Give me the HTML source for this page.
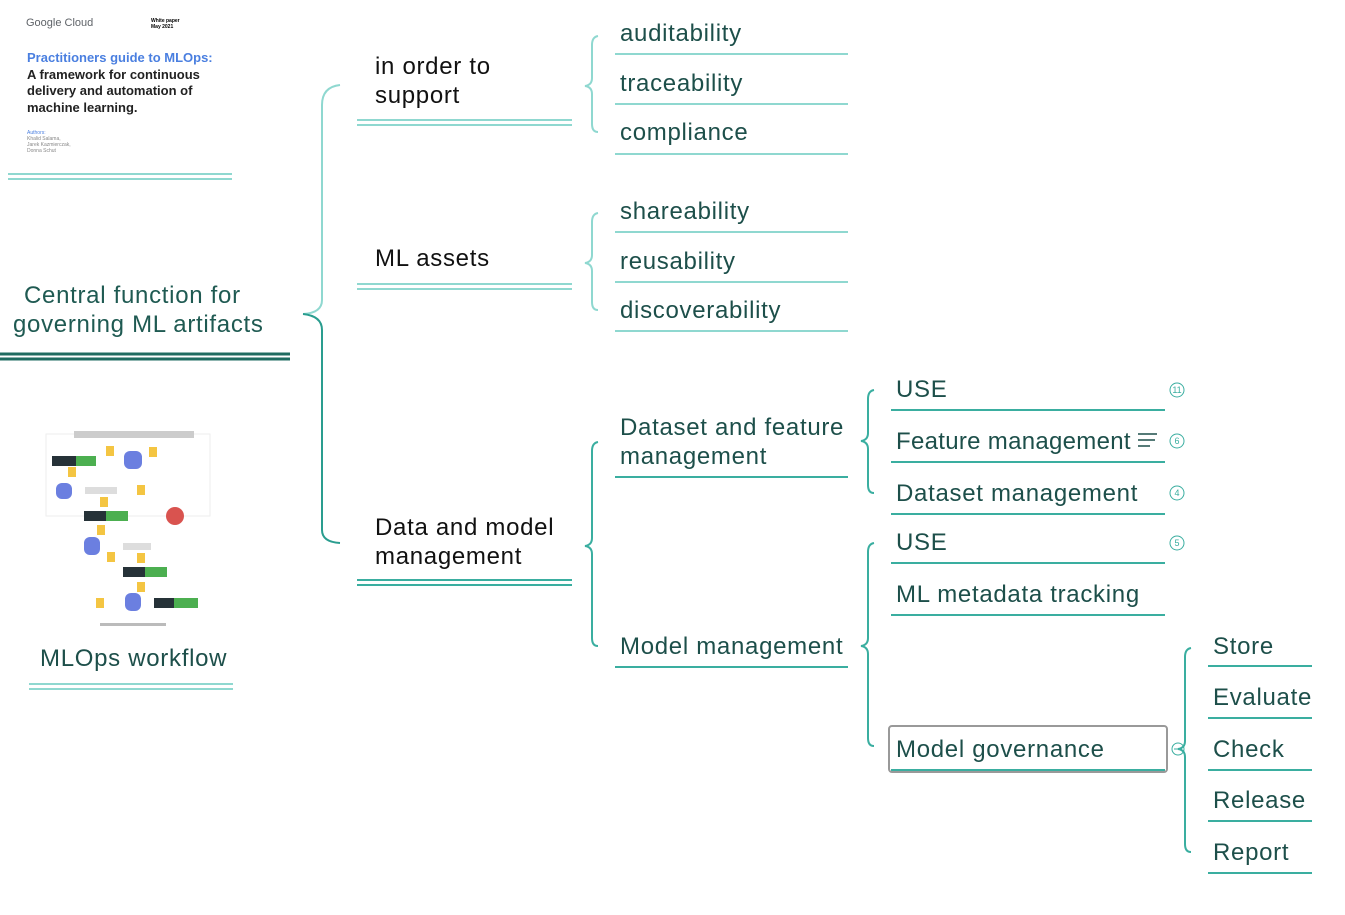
<!DOCTYPE html>
<html><head><meta charset="utf-8"><style>
body{margin:0;width:1345px;height:915px;background:#fff;position:relative;overflow:hidden;font-family:"Liberation Sans",sans-serif}
.t{position:absolute;font-size:24px;color:#1d4f4a;line-height:29px;white-space:nowrap;letter-spacing:0.7px;margin-top:1px}
.k{color:#111}
.s{position:absolute;font-size:11px;white-space:nowrap}
</style></head><body>
<svg width="1345" height="915" style="position:absolute;left:0;top:0">
<g fill="none" stroke-width="2">
<path d="M340 85 Q322 87 322 105 L322 300 Q322 313 303 314" stroke="#8fd8d0"/>
<path d="M303 314 Q322 316 322 330 L322 530 Q322 542 340 543" stroke="#2a9d8f"/>
<path d="M598 36 Q592 37 592 45 L592 78 Q592 85 585 86 Q592 87 592 94 L592 124 Q592 132 598 132" stroke="#8fd8d0"/>
<path d="M598 213 Q592 214 592 222 L592 255 Q592 262 585 263 Q592 264 592 271 L592 302 Q592 310 598 310" stroke="#8fd8d0"/>
<path d="M598 442 Q592 443 592 451 L592 538 Q592 545 585 546 Q592 547 592 554 L592 638 Q592 646 598 646" stroke="#3aaea0"/>
<path d="M874 390 Q868 391 868 399 L868 433 Q868 440 861 441 Q868 442 868 449 L868 485 Q868 493 874 493" stroke="#3aaea0"/>
<path d="M874 543 Q868 544 868 552 L868 638 Q868 645 861 646 Q868 647 868 654 L868 738 Q868 746 874 746" stroke="#3aaea0"/>
<path d="M1191 648 Q1185 649 1185 657 L1185 741 Q1185 748 1178 749 Q1185 750 1185 757 L1185 844 Q1185 852 1191 852" stroke="#3aaea0"/>
</g>
<g stroke-width="2">
<line x1="357" y1="120" x2="572" y2="120" stroke="#8fd8d0"/><line x1="357" y1="125" x2="572" y2="125" stroke="#8fd8d0"/>
<line x1="357" y1="284" x2="572" y2="284" stroke="#8fd8d0"/><line x1="357" y1="289" x2="572" y2="289" stroke="#8fd8d0"/>
<line x1="357" y1="580" x2="572" y2="580" stroke="#3aaea0"/><line x1="357" y1="585" x2="572" y2="585" stroke="#3aaea0"/>
<line x1="0" y1="354" x2="290" y2="354" stroke="#1f6b60" stroke-width="3"/><line x1="0" y1="359" x2="290" y2="359" stroke="#1f6b60" stroke-width="3"/>
<line x1="8" y1="174" x2="232" y2="174" stroke="#8fd8d0"/><line x1="8" y1="179" x2="232" y2="179" stroke="#8fd8d0"/>
<line x1="29" y1="684" x2="233" y2="684" stroke="#8fd8d0"/><line x1="29" y1="689" x2="233" y2="689" stroke="#8fd8d0"/>
<g stroke="#8fd8d0">
<line x1="615" y1="54" x2="848" y2="54"/><line x1="615" y1="104" x2="848" y2="104"/><line x1="615" y1="154" x2="848" y2="154"/>
<line x1="615" y1="232" x2="848" y2="232"/><line x1="615" y1="282" x2="848" y2="282"/><line x1="615" y1="331" x2="848" y2="331"/>
</g>
<g stroke="#3aaea0">
<line x1="615" y1="477" x2="848" y2="477"/><line x1="615" y1="667" x2="848" y2="667"/>
<line x1="891" y1="410" x2="1165" y2="410"/><line x1="891" y1="462" x2="1165" y2="462"/><line x1="891" y1="514" x2="1165" y2="514"/>
<line x1="891" y1="563" x2="1165" y2="563"/><line x1="891" y1="615" x2="1165" y2="615"/><line x1="891" y1="770" x2="1165" y2="770"/>
<line x1="1208" y1="666" x2="1312" y2="666"/><line x1="1208" y1="718" x2="1312" y2="718"/><line x1="1208" y1="770" x2="1312" y2="770"/>
<line x1="1208" y1="821" x2="1312" y2="821"/><line x1="1208" y1="873" x2="1312" y2="873"/>
</g>
</g>
<rect x="889" y="726" width="278" height="46" rx="3" fill="none" stroke="#999" stroke-width="2"/>
<g fill="none" stroke="#3aaea0" stroke-width="1">
<circle cx="1177" cy="390" r="7"/><circle cx="1177" cy="441" r="7"/><circle cx="1177" cy="493" r="7"/><circle cx="1177" cy="543" r="7"/><circle cx="1178" cy="749" r="6"/>
<line x1="1174" y1="749" x2="1182" y2="749"/>
</g>
<g stroke="#1d4f4a" stroke-width="1.5"><line x1="1138" y1="434" x2="1157" y2="434"/><line x1="1138" y1="440" x2="1155" y2="440"/><line x1="1138" y1="446" x2="1150" y2="446"/></g>
<g font-family="Liberation Sans" font-size="9" fill="#3aaea0" text-anchor="middle"><text x="1177" y="393">11</text><text x="1177" y="444">6</text><text x="1177" y="496">4</text><text x="1177" y="546">5</text></g>
<g>
<rect x="46" y="434" width="164" height="82" fill="none" stroke="#eee"/>
<rect x="74" y="431" width="120" height="7" fill="#ccc"/>
<rect x="52" y="456" width="44" height="10" fill="#4caf50"/><rect x="52" y="456" width="24" height="10" fill="#263238"/>
<rect x="84" y="511" width="44" height="10" fill="#4caf50"/><rect x="84" y="511" width="22" height="10" fill="#263238"/>
<rect x="123" y="567" width="44" height="10" fill="#4caf50"/><rect x="123" y="567" width="22" height="10" fill="#263238"/>
<rect x="154" y="598" width="44" height="10" fill="#4caf50"/><rect x="154" y="598" width="20" height="10" fill="#263238"/>
<rect x="85" y="487" width="32" height="7" fill="#ddd"/><rect x="123" y="543" width="28" height="7" fill="#ddd"/>
<g fill="#6b7fe0"><rect x="124" y="451" width="18" height="18" rx="6"/><rect x="56" y="483" width="16" height="16" rx="6"/><rect x="84" y="537" width="16" height="18" rx="6"/><rect x="125" y="593" width="16" height="18" rx="6"/></g>
<g fill="#f4c542"><rect x="106" y="446" width="8" height="10"/><rect x="149" y="447" width="8" height="10"/><rect x="68" y="467" width="8" height="10"/><rect x="137" y="485" width="8" height="10"/><rect x="100" y="497" width="8" height="10"/><rect x="97" y="525" width="8" height="10"/><rect x="107" y="552" width="8" height="10"/><rect x="137" y="553" width="8" height="10"/><rect x="137" y="582" width="8" height="10"/><rect x="96" y="598" width="8" height="10"/></g>
<circle cx="175" cy="516" r="9" fill="#d9534f"/>
<rect x="100" y="623" width="66" height="3" fill="#bbb"/>
</g>
</svg>
<div class="s" style="left:26px;top:17px;color:#5f6368">Google Cloud</div>
<div class="s" style="left:151px;top:18px;font-size:5px;font-weight:bold">White paper<br>May 2021</div>
<div style="position:absolute;left:27px;top:50px;font-size:13px;font-weight:bold;line-height:16.5px;color:#222"><span style="color:#4a7fe0">Practitioners guide to MLOps:</span><br>A framework for continuous<br>delivery and automation of<br>machine learning.</div>
<div style="position:absolute;left:27px;top:130px;font-size:5px;line-height:6px;color:#888"><span style="color:#4a7fe0">Authors:</span><br>Khalid Salama,<br>Jarek Kazmierczak,<br>Donna Schut</div>
<div class="t" style="left:24px;top:280px;color:#1f5a52">Central function for</div>
<div class="t" style="left:13px;top:309px;color:#1f5a52">governing ML artifacts</div>
<div class="t" style="left:40px;top:643px">MLOps workflow</div>
<div class="t k" style="left:375px;top:51px">in order to<br>support</div>
<div class="t k" style="left:375px;top:243px">ML assets</div>
<div class="t k" style="left:375px;top:512px">Data and model<br>management</div>
<div class="t" style="left:620px;top:18px">auditability</div>
<div class="t" style="left:620px;top:68px">traceability</div>
<div class="t" style="left:620px;top:117px">compliance</div>
<div class="t" style="left:620px;top:196px">shareability</div>
<div class="t" style="left:620px;top:246px">reusability</div>
<div class="t" style="left:620px;top:295px">discoverability</div>
<div class="t" style="left:620px;top:412px">Dataset and feature<br>management</div>
<div class="t" style="left:620px;top:631px">Model management</div>
<div class="t" style="left:896px;top:374px">USE</div>
<div class="t" style="left:896px;top:426px;letter-spacing:0.3px">Feature management</div>
<div class="t" style="left:896px;top:478px">Dataset management</div>
<div class="t" style="left:896px;top:527px">USE</div>
<div class="t" style="left:896px;top:579px">ML metadata tracking</div>
<div class="t" style="left:896px;top:734px">Model governance</div>
<div class="t" style="left:1213px;top:631px">Store</div>
<div class="t" style="left:1213px;top:682px">Evaluate</div>
<div class="t" style="left:1213px;top:734px">Check</div>
<div class="t" style="left:1213px;top:785px">Release</div>
<div class="t" style="left:1213px;top:837px">Report</div>
</body></html>
